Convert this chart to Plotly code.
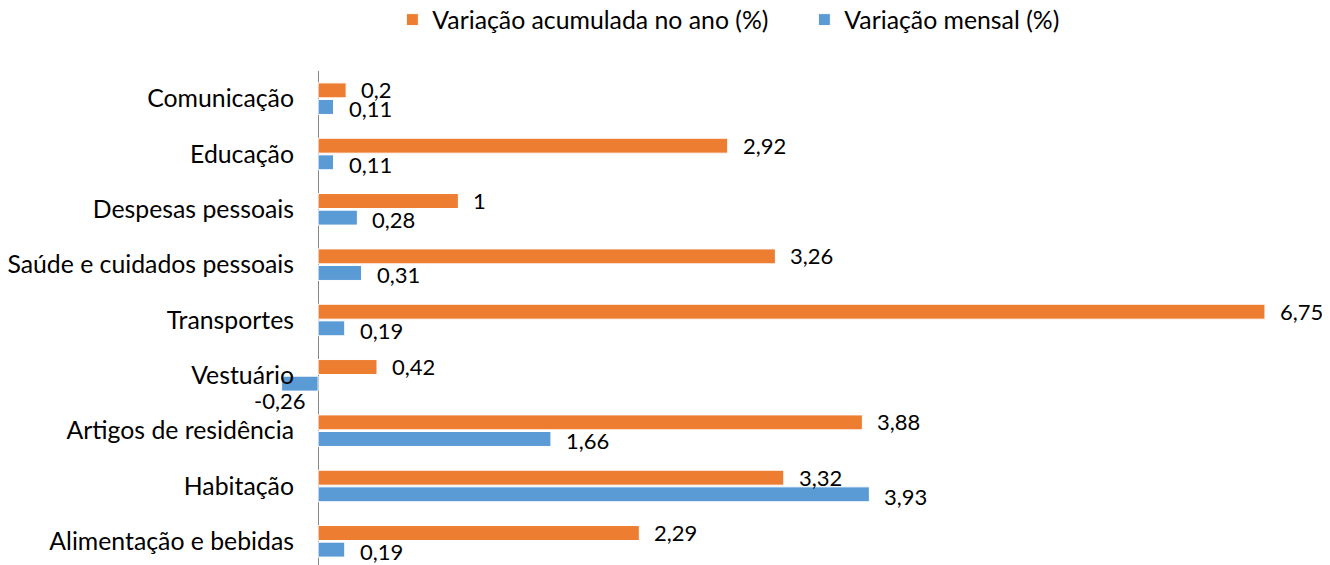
import plotly.graph_objects as go

categories = ["Alimentação e bebidas", "Habitação", "Artigos de residência", "Vestuário",
              "Transportes", "Saúde e cuidados pessoais", "Despesas pessoais", "Educação", "Comunicação"]
acumulada = [2.29, 3.32, 3.88, 0.42, 6.75, 3.26, 1.0, 2.92, 0.2]
mensal = [0.19, 3.93, 1.66, -0.26, 0.19, 0.31, 0.28, 0.11, 0.11]

name_acum = "Variação acumulada no ano (%)"
name_mensal = "Variação mensal (%)"
ORANGE = "#ED7D31"
BLUE = "#5B9BD5"
FONT = "Lato"
LABEL_SIZE = 22
CAT_SIZE = 24.8

def fmt(v):
    return ("%g" % v).replace(".", ",")

fig = go.Figure()
fig.add_trace(go.Bar(y=categories, x=mensal, orientation="h", name=name_mensal,
                     marker=dict(color=BLUE, line=dict(color="white", width=1))))
fig.add_trace(go.Bar(y=categories, x=acumulada, orientation="h", name=name_acum,
                     marker=dict(color=ORANGE, line=dict(color="white", width=1))))

annotations = []
for cat, v in zip(categories, acumulada):
    annotations.append(dict(x=v, y=cat, xref="x", yref="y", text=fmt(v), showarrow=False,
                            xanchor="left", yanchor="middle", xshift=13, yshift=9,
                            font=dict(family=FONT, size=LABEL_SIZE, color="#000")))
for cat, v in zip(categories, mensal):
    if v >= 0:
        annotations.append(dict(x=v, y=cat, xref="x", yref="y", text=fmt(v), showarrow=False,
                                xanchor="left", yanchor="middle", xshift=13, yshift=-10,
                                font=dict(family=FONT, size=LABEL_SIZE, color="#000")))
    else:
        annotations.append(dict(x=v, y=cat, xref="x", yref="y", text=fmt(v), showarrow=False,
                                xanchor="center", yanchor="middle", xshift=-2, yshift=-25,
                                font=dict(family=FONT, size=LABEL_SIZE, color="#000")))

fig.update_layout(
    width=1330, height=565,
    margin=dict(l=268, r=52, t=63, b=4, autoexpand=False),
    paper_bgcolor="white", plot_bgcolor="white",
    barmode="group", bargap=0.4, bargroupgap=0.1,
    font=dict(family=FONT, size=CAT_SIZE, color="#000"),
    showlegend=True,
    legend=dict(orientation="h", xref="container", yref="paper", x=0.289, y=1.1486,
                xanchor="left", yanchor="top", traceorder="reversed",
                font=dict(family=FONT, size=CAT_SIZE, color="#000"), itemwidth=30,
                entrywidth=367),
    xaxis=dict(range=[-0.3, 6.9], showgrid=False, showticklabels=False, ticks="",
               zeroline=True, zerolinecolor="#868686", zerolinewidth=1, showline=False,
               fixedrange=True, automargin=False),
    yaxis=dict(type="category", categoryorder="array", categoryarray=categories,
               range=[-0.5, 8.5], showgrid=False, ticks="", ticklabelstandoff=-19,
               showline=False, zeroline=False, automargin=False,
               tickfont=dict(family=FONT, size=CAT_SIZE, color="#000")),
    annotations=annotations,
    hovermode=False,
)

fig.write_html("out.html")
